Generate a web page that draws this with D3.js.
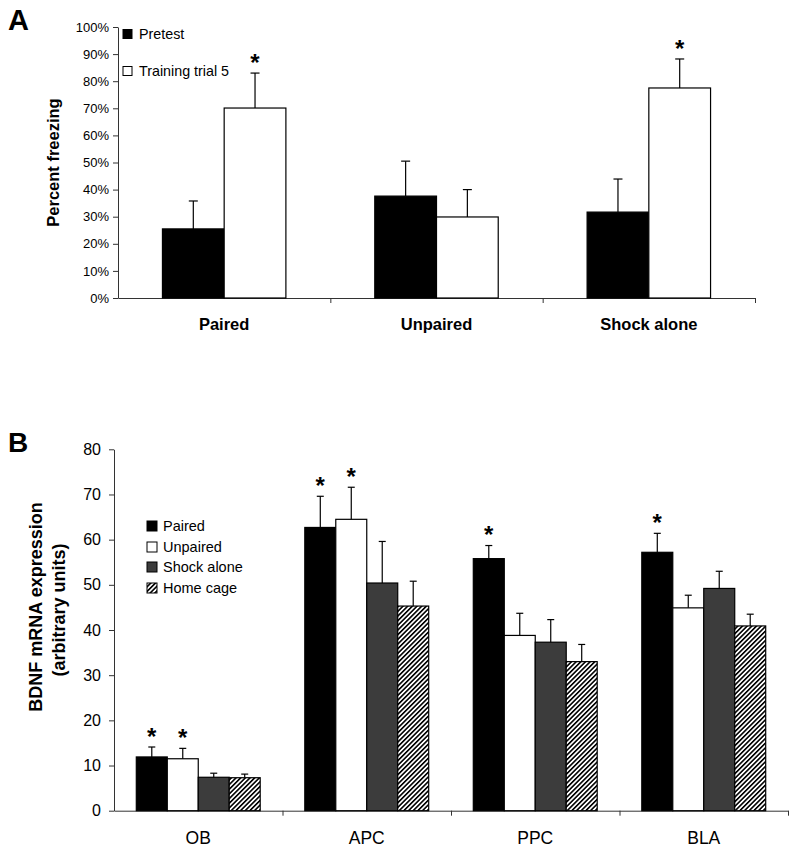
<!DOCTYPE html>
<html><head><meta charset="utf-8">
<script src="https://cdn.jsdelivr.net/npm/d3@7"></script>
<style>body{margin:0;background:#fff} svg{display:block} text{font-family:"Liberation Sans",Arial,sans-serif;fill:#000}</style>
</head><body><svg id="c" width="800" height="856"></svg>
<script>
// ---------- Panel A data ----------
const groupsA = ["Paired", "Unpaired", "Shock alone"];
const seriesA = ["Pretest", "Training trial 5"];
const pretestMean = [25.5, 37.6, 31.7];
const pretestSem = [10.3, 12.9, 12.2];
const trainingMean = [70.1, 29.9, 77.5];
const trainingSem = [12.9, 10.1, 10.7];
const pretestSig = [false, false, false];
const trainingSig = [true, false, true];
const ticksA = [0, 10, 20, 30, 40, 50, 60, 70, 80, 90, 100];

// ---------- Panel B data ----------
const regionsB = ["OB", "APC", "PPC", "BLA"];
const seriesB = ["Paired", "Unpaired", "Shock alone", "Home cage"];
const pairedMean = [11.9, 62.7, 55.8, 57.2];
const pairedSem = [2.2, 6.9, 2.9, 4.2];
const pairedSig = [true, true, true, true];
const unpairedMean = [11.5, 64.5, 38.8, 44.9];
const unpairedSem = [2.3, 7.1, 4.9, 2.8];
const unpairedSig = [true, true, false, false];
const shockMean = [7.4, 50.4, 37.3, 49.2];
const shockSem = [0.9, 9.2, 5.0, 3.8];
const shockSig = [false, false, false, false];
const homeMean = [7.3, 45.3, 33.0, 40.9];
const homeSem = [0.8, 5.5, 3.8, 2.6];
const homeSig = [false, false, false, false];
const ticksB = [0, 10, 20, 30, 40, 50, 60, 70, 80];

const svg = d3.select("#c");
const defs = svg.append("defs");
const pat = defs.append("pattern").attr("id", "hatch")
  .attr("patternUnits", "userSpaceOnUse").attr("width", 3.3).attr("height", 10)
  .attr("patternTransform", "rotate(45)");
pat.append("rect").attr("width", 3.3).attr("height", 10).attr("fill", "#fff");
pat.append("line").attr("x1", 0.8).attr("y1", 0).attr("x2", 0.8).attr("y2", 10)
  .attr("stroke", "#000").attr("stroke-width", 1.6);

const fillMap = {"black": "#000", "white": "#fff", "gray": "#3c3c3c", "hatch": "url(#hatch)"};

function drawPanel(cfg) {
  const g = svg.append("g");
  const y = d3.scaleLinear().domain(cfg.yDomain).range([cfg.y0, cfg.y1]);
  const x0 = d3.scaleBand().domain(cfg.groups).range([cfg.xL, cfg.xR]).padding(0);
  const x1 = d3.scaleBand().domain(cfg.series.map(s => s.name)).range([0, x0.bandwidth()])
    .paddingInner(0).paddingOuter(cfg.outerPad);

  // y axis
  const ya = g.append("g").attr("transform", `translate(${cfg.xL},0)`)
    .call(d3.axisLeft(y).tickValues(cfg.ticks).tickFormat(cfg.tickFmt)
      .tickSizeInner(5).tickSizeOuter(0).tickPadding(cfg.tickPad));
  ya.selectAll("path,line").attr("stroke", "#333");
  ya.selectAll("text").attr("font-size", cfg.tickFont).attr("fill", "#000")
    .style("font-family", '"Liberation Sans",Arial,sans-serif');

  // x axis with boundary ticks
  const xb = d3.scaleLinear().domain([0, cfg.groups.length]).range([cfg.xL, cfg.xR]);
  const xa = g.append("g").attr("transform", `translate(0,${cfg.y0})`)
    .call(d3.axisBottom(xb).tickValues(d3.range(1, cfg.groups.length + 1))
      .tickFormat("").tickSizeInner(5).tickSizeOuter(0));
  xa.selectAll("path,line").attr("stroke", "#333");

  // bars
  cfg.series.forEach(s => {
    const sg = g.append("g");
    cfg.groups.forEach((grp, i) => {
      const bx = x0(grp) + x1(s.name);
      const bw = x1.bandwidth();
      const v = s.mean[i], e = s.sem[i];
      sg.append("rect").attr("x", bx).attr("y", y(v))
        .attr("width", bw).attr("height", y(0) - y(v))
        .attr("fill", fillMap[s.fill]).attr("stroke", "#000").attr("stroke-width", 1.2);
      const cx = bx + bw / 2;
      sg.append("line").attr("x1", cx).attr("x2", cx).attr("y1", y(v)).attr("y2", y(v + e))
        .attr("stroke", "#000").attr("stroke-width", 1.2);
      sg.append("line").attr("x1", cx - cfg.cap / 2).attr("x2", cx + cfg.cap / 2)
        .attr("y1", y(v + e)).attr("y2", y(v + e)).attr("stroke", "#000").attr("stroke-width", 1.2);
      if (s.sig[i]) {
        sg.append("text").attr("x", cx).attr("y", y(v + e) - 2 + 13)
          .attr("text-anchor", "middle").attr("font-size", 24).attr("font-weight", "bold")
          .attr("dy", "-0.55em").text("*");
      }
    });
  });

  // category labels
  g.selectAll(".cat").data(cfg.groups).enter().append("text")
    .attr("x", d => x0(d) + x0.bandwidth() / 2).attr("y", cfg.catY)
    .attr("text-anchor", "middle").attr("font-size", cfg.catFont)
    .attr("font-weight", cfg.catWeight).text(d => d);

  return {g, y, x0, x1};
}

// ---------- Panel A ----------
drawPanel({
  groups: groupsA,
  series: [
    {name: seriesA[0], mean: pretestMean, sem: pretestSem, sig: pretestSig, fill: "black"},
    {name: seriesA[1], mean: trainingMean, sem: trainingSem, sig: trainingSig, fill: "white"}
  ],
  yDomain: [0, 100], y0: 298, y1: 27, xL: 118, xR: 755, outerPad: 0.72,
  ticks: ticksA, tickFmt: d => d + "%", tickFont: 13, tickPad: 4, cap: 9,
  catY: 330, catFont: 16.5, catWeight: "bold"
});
svg.append("text").attr("transform", "translate(59,162.5) rotate(-90)")
  .attr("text-anchor", "middle").attr("font-size", 16.5).attr("font-weight", "bold")
  .text("Percent freezing");
svg.append("text").attr("x", 8).attr("y", 30).attr("font-size", 29).attr("font-weight", "bold").text("A");

// legend A
const legA = [{name: seriesA[0], fill: "#000", y: 34}, {name: seriesA[1], fill: "#fff", y: 71}];
legA.forEach(l => {
  svg.append("rect").attr("x", 123).attr("y", l.y - 4.5).attr("width", 9).attr("height", 9)
    .attr("fill", l.fill).attr("stroke", "#000").attr("stroke-width", 1);
  svg.append("text").attr("x", 139).attr("y", l.y + 5).attr("font-size", 14.3).text(l.name);
});

// ---------- Panel B ----------
drawPanel({
  groups: regionsB,
  series: [
    {name: seriesB[0], mean: pairedMean, sem: pairedSem, sig: pairedSig, fill: "black"},
    {name: seriesB[1], mean: unpairedMean, sem: unpairedSem, sig: unpairedSig, fill: "white"},
    {name: seriesB[2], mean: shockMean, sem: shockSem, sig: shockSig, fill: "gray"},
    {name: seriesB[3], mean: homeMean, sem: homeSem, sig: homeSig, fill: "hatch"}
  ],
  yDomain: [0, 80], y0: 810.7, y1: 449.3, xL: 114, xR: 788, outerPad: 0.72,
  ticks: ticksB, tickFmt: d => d, tickFont: 16, tickPad: 8, cap: 7,
  catY: 844, catFont: 17.5, catWeight: "normal"
});
svg.append("text").attr("transform", "translate(42,607) rotate(-90)")
  .attr("text-anchor", "middle").attr("font-size", 18).attr("font-weight", "bold")
  .text("BDNF mRNA expression");
svg.append("text").attr("transform", "translate(65,610) rotate(-90)")
  .attr("text-anchor", "middle").attr("font-size", 18).attr("font-weight", "bold")
  .text("(arbitrary units)");
svg.append("text").attr("x", 8).attr("y", 452).attr("font-size", 28).attr("font-weight", "bold").text("B");

// legend B
const legFillsB = ["black", "white", "gray", "hatch"];
const legYB = [526, 547, 567, 588];
seriesB.forEach((name, i) => {
  svg.append("rect").attr("x", 147).attr("y", legYB[i] - 5).attr("width", 10).attr("height", 10)
    .attr("fill", fillMap[legFillsB[i]]).attr("stroke", "#000").attr("stroke-width", 1);
  svg.append("text").attr("x", 163).attr("y", legYB[i] + 5.2).attr("font-size", 14.5).text(name);
});
</script></body></html>
